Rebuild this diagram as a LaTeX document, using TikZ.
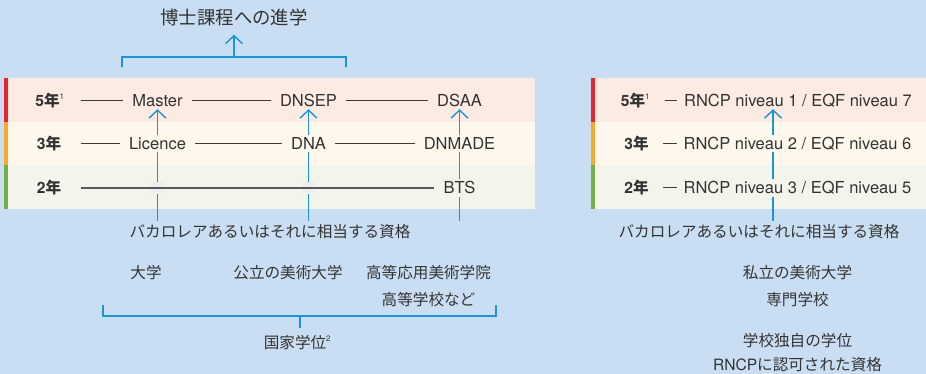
\documentclass[tikz,border=0pt]{standalone}
\usepackage{fontspec}
\setmainfont{TeX Gyre Heros}
\newfontfamily\jp{Noto Sans CJK JP}
\usetikzlibrary{arrows.meta,positioning}

\definecolor{bgblue}{HTML}{C9DEF2}
\definecolor{bandfive}{HTML}{FCEBE3}
\definecolor{bandthree}{HTML}{FEF7EC}
\definecolor{bandtwo}{HTML}{F3F5EC}
\definecolor{stripred}{HTML}{E8252C}
\definecolor{stripgold}{HTML}{F6AA2C}
\definecolor{stripgreen}{HTML}{72B04B}
\definecolor{txt}{HTML}{333333}
\definecolor{linegray}{HTML}{3C3C3C}
\definecolor{arrowblue}{HTML}{1B95D3}
\definecolor{gapgray}{HTML}{ECEEF0}

\newcommand{\supnum}[1]{\rlap{\raisebox{7pt}{\rmfamily\mdseries\fontsize{8}{8}\selectfont #1}}}

\begin{document}
\begin{tikzpicture}[
        x=1pt, y=-1pt,
        jplabel/.style={font=\jp\fontsize{15.6}{18}\selectfont, text=txt, inner sep=0pt},
        degree/.style={font=\fontsize{16.5}{19}\selectfont, text=txt, inner xsep=9pt, inner ysep=2.5pt, text height=12pt, text depth=0pt},
        rncp/.style={degree, inner xsep=7pt},
        years/.style={font=\bfseries\fontsize{15.6}{18}\selectfont, text=txt, inner sep=0pt},
        link/.style={draw=linegray, line width=1pt},
        rise/.style={draw=arrowblue, line width=1.4pt},
        risearrow/.style={rise, -{Straight Barb[length=8pt,width=17pt]}},
        gapbox/.style={fill=gapgray, minimum width=13pt, minimum height=11pt, inner sep=0pt},
    ]
        \useasboundingbox (0,0) rectangle (926,374);
        \fill[bgblue] (0,0) rectangle (926,374);

        % bands of both panels
        \foreach \x/\w in {4/535, 591/926} {
            \fill[bandfive] (\x,78) rectangle (\w,122);
            \fill[bandthree] (\x,122) rectangle (\w,165);
            \fill[bandtwo] (\x,165) rectangle (\w,209);
            \fill[stripred] (\x,78) rectangle (\x+4,122);
            \fill[stripgold] (\x,122) rectangle (\x+4,165);
            \fill[stripgreen] (\x,165) rectangle (\x+4,209);
        }

        % left panel
        \node[jplabel, font=\jp\fontsize{18.4}{20}\selectfont, inner ysep=9pt] (phd) at (234,17) {博士課程への進学};

        \node[years] (y5) at (47.5,100.5) {5{\jp 年}\supnum{1}};
        \node[years] (y3) at (49,143.5) {3{\jp 年}};
        \node[years] (y2) at (49,188) {2{\jp 年}};

        \node[degree] (master) at (157.5,100.5) {Master};
        \node[degree] (dnsep) at (308.5,100.5) {DNSEP};
        \node[degree] (dsaa) at (459.5,100.5) {DSAA};
        \node[degree] (licence) at (157.5,143.5) {Licence};
        \node[degree] (dna) at (308.5,143.5) {DNA};
        \node[degree] (dnmade) at (459.5,143.5) {DNMADE};
        \node[degree] (bts) at (459.5,188) {BTS};

        \node[gapbox] (gapl) at (licence |- bts) {};
        \node[gapbox] (gapd) at (dna |- bts) {};

        \coordinate (s5) at (81,100.5);
        \coordinate (s3) at (81,143.5);
        \coordinate (s2) at (81,188);
        \draw[link] (s5) -- (master);
        \draw[link] (master) -- (dnsep);
        \draw[link] (dnsep) -- (dsaa);
        \draw[link] (s3) -- (licence);
        \draw[link] (licence) -- (dna);
        \draw[link] (dna) -- (dnmade);
        \draw[link, line width=1.8pt, draw=linegray!85] (s2) -- (bts);

        \node[jplabel, inner ysep=4pt] (bacl) at (270,232) {バカロレアあるいはそれに相当する資格};

        \draw[rise] (bacl.north -| licence) -- (gapl.south);
        \draw[rise] (gapl.north) -- (licence.south);
        \draw[risearrow] (licence.north) -- (master.south);
        \draw[rise] (bacl.north -| dna) -- (gapd.south);
        \draw[rise] (gapd.north) -- (dna.south);
        \draw[risearrow] (dna.north) -- (dnsep.south);
        \draw[rise] (bacl.north -| bts) -- (bts.south);
        \draw[rise] (bts.north) -- (dnmade.south);
        \draw[risearrow] (dnmade.north) -- (dsaa.south);

        % bracket to the doctorate
        \coordinate (bl) at (122,67);
        \coordinate (br) at (346,67);
        \coordinate (bm) at (234,57);
        \draw[rise] (bl) -- ++(0,-10) -| (br);
        \draw[risearrow] (bm) -- (phd.south);

        % schools and national degree
        \node[jplabel] (univ) at (146,273) {大学};
        \node[jplabel] (ensa) at (288,273) {公立の美術大学};
        \node[jplabel, align=center, font=\jp\fontsize{15.6}{27}\selectfont] (esaa) at (428.5,286.5) {高等応用美術学院\\高等学校など};

        \coordinate (nl) at (103,305);
        \coordinate (nr) at (496,305);
        \coordinate (nm) at (300,316);
        \coordinate (nt) at (300,328);
        \draw[rise] (nl) -- ++(0,11) -| (nr);
        \draw[rise] (nm) -- (nt);
        \node[jplabel] (national) at (295,343) {国家学位\supnum{2}};

        % right panel
        \node[years] (r5y) at (633,100.5) {5{\jp 年}\supnum{1}};
        \node[years] (r3y) at (636.5,143.5) {3{\jp 年}};
        \node[years] (r2y) at (636.5,188) {2{\jp 年}};

        \node[rncp] (rn1) at (798,100.5) {RNCP niveau 1 / EQF niveau 7};
        \node[rncp] (rn2) at (797.5,143.5) {RNCP niveau 2 / EQF niveau 6};
        \node[rncp] (rn3) at (797.5,188) {RNCP niveau 3 / EQF niveau 5};

        \coordinate (d5) at (665,100.5);
        \coordinate (d3) at (663,143.5);
        \coordinate (d2) at (663,188);
        \draw[link] (d5) -- (rn1);
        \draw[link] (d3) -- (rn2);
        \draw[link] (d2) -- (rn3);

        \node[jplabel, inner ysep=4pt] (bacr) at (759,232) {バカロレアあるいはそれに相当する資格};

        \coordinate (rcol) at (773,0);
        \draw[rise] (bacr.north -| rcol) -- (rn3.south -| rcol);
        \draw[rise] (rn3.north -| rcol) -- (rn2.south -| rcol);
        \draw[risearrow] (rn2.north -| rcol) -- (rn1.south -| rcol);

        \node[jplabel, align=center, font=\jp\fontsize{15.6}{27}\selectfont] (priv) at (797.5,286.5) {私立の美術大学\\専門学校};
        \node[jplabel, align=center, font=\fontsize{15.6}{24}\selectfont] (own) at (797.5,352.5) {{\jp 学校独自の学位}\\RNCP{\jp に認可された資格}};
\end{tikzpicture}
\end{document}
